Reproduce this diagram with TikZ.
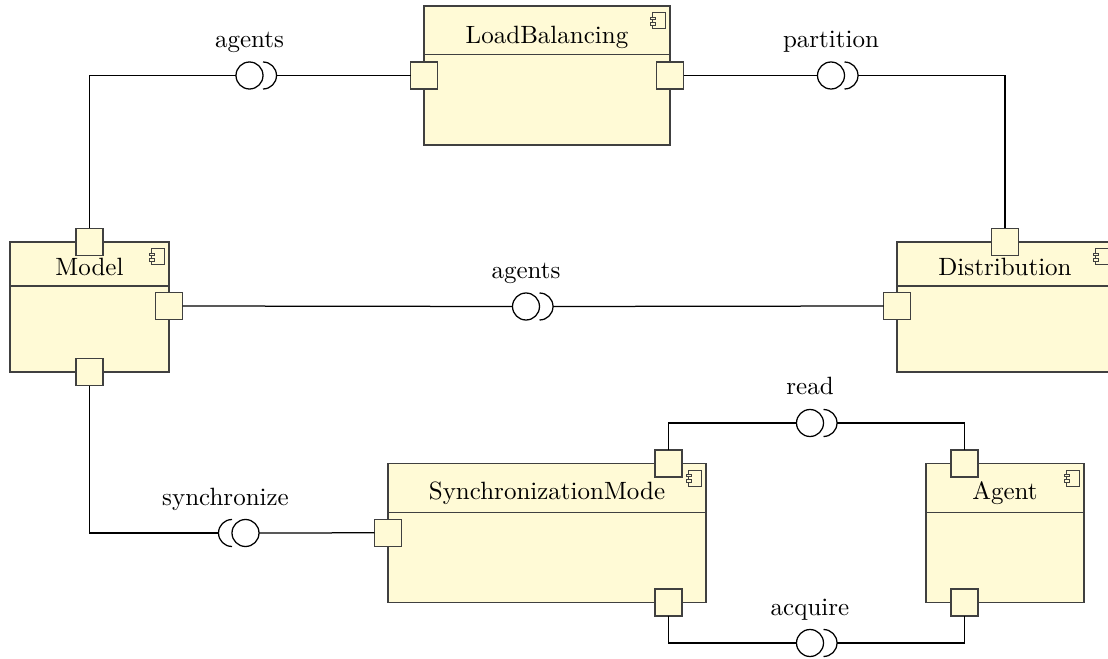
\documentclass[tikz,border=0pt]{standalone}
\usepackage{tikz}
\usetikzlibrary{positioning}
\definecolor{compfill}{RGB}{255,250,214}
\definecolor{compline}{RGB}{64,64,64}

\tikzset{
    compicon/.pic={
        \draw[compline, line width=0.4pt, fill=compfill] (-5.2pt,0) rectangle (0,-6.4pt);
        \draw[compline, line width=0.35pt, fill=compfill] (-6.3pt,-1.6pt) rectangle (-4.1pt,-2.6pt);
        \draw[compline, line width=0.35pt, fill=compfill] (-6.3pt,-3.8pt) rectangle (-4.1pt,-4.8pt);
    }
}

\begin{document}
\begin{tikzpicture}[
    x=0.4pt, y=-0.4pt,
    comp/.style={rectangle, draw=compline, fill=compfill, line width=0.6pt, inner sep=0pt, outer sep=0pt},
    portbox/.style={rectangle, draw=compline, fill=compfill, line width=0.6pt, minimum size=10.8pt, inner sep=0pt, outer sep=0pt},
    comptitle/.style={inner sep=0pt, anchor=base},
    lollipop/.style={circle, draw=black, fill=white, line width=0.5pt, minimum size=10.8pt, inner sep=0pt, outer sep=0pt},
    ifacelabel/.style={inner sep=0pt, anchor=base},
    wire/.style={draw=black, line width=0.5pt},
    socket/.style={draw=black, line width=0.5pt}
]
    \clip (0,0) rectangle (1108,659);

    % Components
    \node[comp, minimum width=98.4pt, minimum height=55.6pt] (lb) at (547,75.5) {};
    \node[comp, minimum width=63.6pt, minimum height=52pt] (model) at (89.5,307) {};
    \node[comp, minimum width=86.4pt, minimum height=52pt] (dist) at (1005,307) {};
    \node[comp, minimum width=127.2pt, minimum height=55.6pt] (sync) at (547,532.8) {};
    \node[comp, minimum width=63.2pt, minimum height=55.6pt] (agent) at (1005,532.8) {};

    % Titles
    \node[comptitle] (lbt) at ([yshift=-14.9pt]lb.north) {LoadBalancing};
    \node[comptitle] (modelt) at ([yshift=-13.6pt]model.north) {Model};
    \node[comptitle] (distt) at ([yshift=-13.6pt]dist.north) {Distribution};
    \node[comptitle] (synct) at ([yshift=-14.3pt]sync.north) {SynchronizationMode};
    \node[comptitle] (agentt) at ([yshift=-14.3pt]agent.north) {Agent};

    % Dividers and icons
    \foreach \n/\d in {lb/19.4pt, model/17.7pt, dist/17.7pt, sync/19.6pt, agent/19.6pt} {
        \draw[compline, line width=0.6pt] ([yshift=-\d]\n.north west) -- ([yshift=-\d]\n.north east);
        \pic at ([xshift=-1.7pt, yshift=-2.8pt]\n.north east) {compicon};
    }

    % Ports
    \node[portbox] (lbW) at (lb.west) {};
    \node[portbox] (lbE) at (lb.east) {};
    \node[portbox] (modelN) at (model.north) {};
    \node[portbox] (modelE) at ([yshift=0.4pt]model.east) {};
    \node[portbox] (modelS) at (model.south) {};
    \node[portbox] (distN) at (dist.north) {};
    \node[portbox] (distW) at ([yshift=0.4pt]dist.west) {};
    \node[portbox] (syncW) at (sync.west) {};
    \node[portbox] (syncN) at ([xshift=-15pt]sync.north east) {};
    \node[portbox] (syncS) at ([xshift=-15pt]sync.south east) {};
    \node[portbox] (agentN) at ([xshift=15.4pt]agent.north west) {};
    \node[portbox] (agentS) at ([xshift=15.4pt]agent.south west) {};

    % Interfaces
    \node[lollipop] (agentsTop) at (249.5,75.5) {};
    \node[lollipop] (partition) at (831,75.5) {};
    \node[lollipop] (agentsMid) at (526,306.5) {};
    \node[lollipop] (synchronize) at (245.5,533) {};
    \node[lollipop] (read) at (810,423) {};
    \node[lollipop] (acquire) at (810,643) {};

    \foreach \b in {agentsTop, partition, agentsMid, read, acquire} {
        \draw[socket] ([yshift=5.4pt]\b.east) arc[start angle=90, end angle=-90, radius=5.4pt];
        \coordinate (\b S) at ([xshift=5.4pt]\b.east);
    }
    \draw[socket] ([yshift=5.4pt]synchronize.west) arc[start angle=90, end angle=270, radius=5.4pt];
    \coordinate (synchronizeS) at ([xshift=-5.4pt]synchronize.west);

    % Labels
    \node[ifacelabel] (agentsTopL) at ([yshift=5.8pt]agentsTop.north) {agents};
    \node[ifacelabel] (partitionL) at ([yshift=5.8pt]partition.north) {partition};
    \node[ifacelabel] (agentsMidL) at ([yshift=5.8pt]agentsMid.north) {agents};
    \node[ifacelabel] (synchronizeL) at ([xshift=-8pt, yshift=5.8pt]synchronize.north) {synchronize};
    \node[ifacelabel] (readL) at ([yshift=5.8pt]read.north) {read};
    \node[ifacelabel] (acquireL) at ([yshift=5.8pt]acquire.north) {acquire};

    % Connections
    \draw[wire] (modelN.north) |- (agentsTop.west);
    \draw[wire] (agentsTopS) -- (lbW.west);
    \draw[wire] (lbE.east) -- (partition.west);
    \draw[wire] (partitionS) -| (distN.north);
    \draw[wire] (modelE.east) -- (agentsMid.west);
    \draw[wire] (agentsMidS) -- (distW.west);
    \draw[wire] (modelS.south) |- (synchronizeS);
    \draw[wire] (synchronize.east) -- (syncW.west);
    \draw[wire] (syncN.north) |- (read.west);
    \draw[wire] (readS) -| (agentN.north);
    \draw[wire] (syncS.south) |- (acquire.west);
    \draw[wire] (acquireS) -| (agentS.south);
\end{tikzpicture}
\end{document}
